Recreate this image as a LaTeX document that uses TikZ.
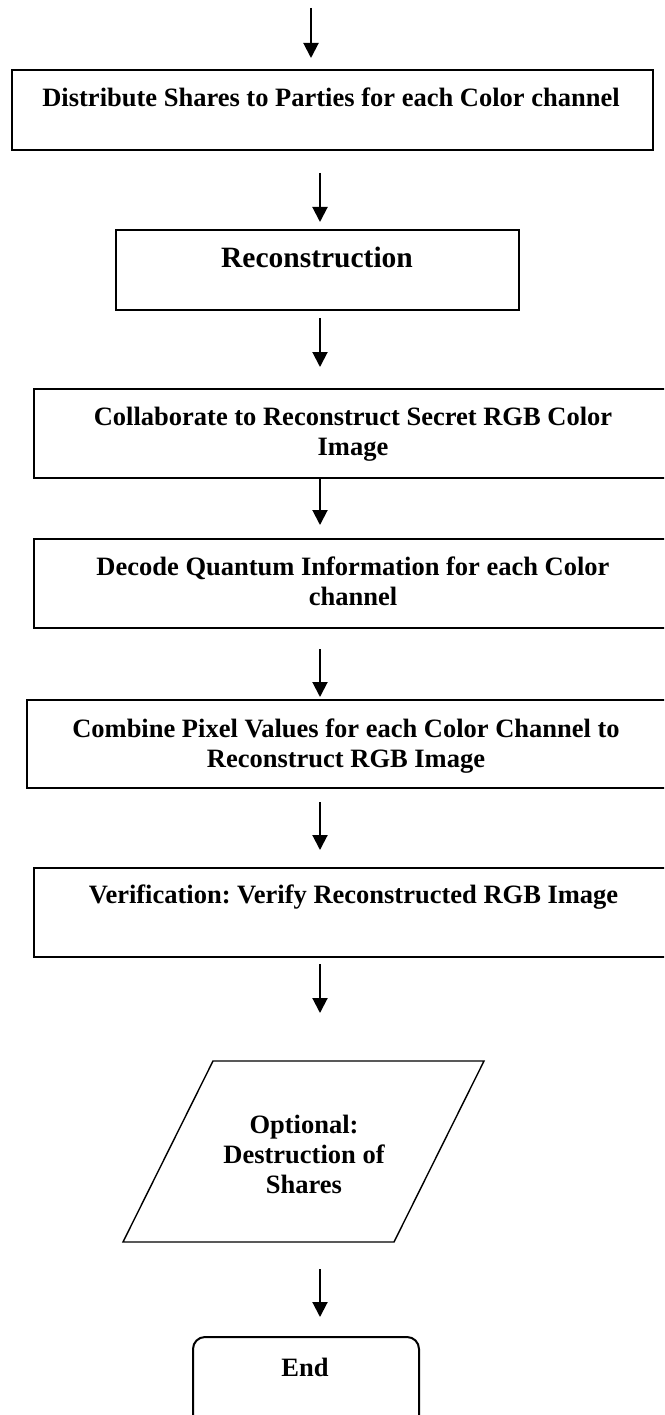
\documentclass[tikz,border=0pt]{standalone}
\usepackage{fontspec}
\setmainfont{Liberation Serif}
\usetikzlibrary{arrows.meta}
\frenchspacing
\tikzset{
  box/.style={draw, line width=2pt, inner sep=0pt, anchor=north west},
  lbl/.style={anchor=base, align=center, inner sep=0pt, font={\fontsize{26.5}{30}\selectfont\bfseries\frenchspacing}},
  biglbl/.style={anchor=base, align=center, inner sep=0pt, font={\fontsize{29.5}{34}\selectfont\bfseries}},
  flow/.style={-{Triangle[length=15pt,width=15pt]}, line width=2pt},
}
\begin{document}
\begin{tikzpicture}[x=1pt,y=-1pt]
\useasboundingbox (0,0) rectangle (664,1415);
\clip (0,0) rectangle (664,1415);
% boxes
\node[box, minimum width=641pt, minimum height=80pt] (b1) at (11,69) {};
\node[box, minimum width=403pt, minimum height=80pt] (b2) at (115,229) {};
\node[box, minimum width=639pt, minimum height=89pt] (b3) at (33,388) {};
\node[box, minimum width=639pt, minimum height=89pt] (b4) at (33,538) {};
\node[box, minimum width=640pt, minimum height=88pt] (b5) at (26,699) {};
\node[box, minimum width=639pt, minimum height=89pt] (b6) at (33,867) {};
\node[box, rounded corners=12pt, minimum width=226pt, minimum height=100pt] (bend) at (192,1336) {};
% parallelogram
\coordinate (p1) at (213,1061);
\coordinate (p2) at (484,1061);
\coordinate (p3) at (394,1242);
\coordinate (p4) at (123,1242);
\draw[line width=1.4pt] (p1) -- (p2) -- (p3) -- (p4) -- cycle;
% texts (base anchor = baseline of last line)
\node[lbl] (t1) at (331,107) {Distribute Shares to Parties for each Color channel};
\node[biglbl] (t2) at (317,268) {Reconstruction};
\node[lbl] (t3) at (353,455) {Collaborate to Reconstruct Secret RGB Color\\Image};
\node[lbl] (t4) at (353,605) {Decode Quantum Information for each Color\\channel};
\node[lbl] (t5) at (346,767) {Combine Pixel Values for each Color Channel to\\Reconstruct RGB Image};
\node[lbl] (t6) at (353.5,903) {Verification: Verify Reconstructed RGB Image};
\node[lbl] (tp) at (304,1193) {Optional:\\Destruction of\\Shares};
\node[lbl] (tend) at (305,1376) {End};
% arrows
\coordinate (a0s) at (311,8);    \coordinate (a0e) at (311,58);
\coordinate (a1s) at (320,173);  \coordinate (a1e) at (320,222);
\coordinate (a2s) at (320,318);  \coordinate (a2e) at (320,367);
\coordinate (a3s) at (320,477);  \coordinate (a3e) at (320,525);
\coordinate (a4s) at (320,649);  \coordinate (a4e) at (320,697);
\coordinate (a5s) at (320,802);  \coordinate (a5e) at (320,850);
\coordinate (a6s) at (320,964);  \coordinate (a6e) at (320,1013);
\coordinate (a7s) at (320,1269); \coordinate (a7e) at (320,1317);
\foreach \i in {0,...,7} { \draw[flow] (a\i s) -- (a\i e); }
\end{tikzpicture}
\end{document}
